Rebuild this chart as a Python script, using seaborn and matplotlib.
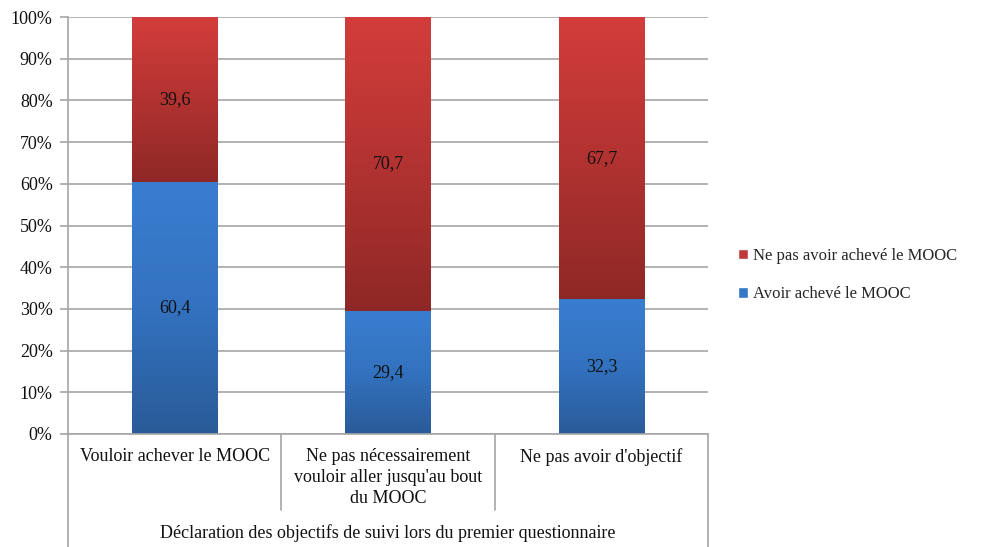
import numpy as np
import pandas as pd
import seaborn as sns
import matplotlib.pyplot as plt
from matplotlib.colors import LinearSegmentedColormap
from matplotlib.patches import Patch
from matplotlib.lines import Line2D

# Data
categories = ["Vouloir achever le MOOC",
              "Ne pas nécessairement\nvouloir aller jusqu'au bout\ndu MOOC",
              "Ne pas avoir d'objectif"]
acheve = [60.4, 29.4, 32.3]
non_acheve = [39.6, 70.7, 67.7]
series_names = ["Avoir achevé le MOOC", "Ne pas avoir achevé le MOOC"]
group_label = "Déclaration des objectifs de suivi lors du premier questionnaire"

df = pd.DataFrame({"cat": [str(i) for i in range(len(categories))],
                   "acheve": acheve, "non_acheve": non_acheve})
df["total"] = df["acheve"] + df["non_acheve"]

sns.set_style("white")
plt.rcParams["font.family"] = ["Liberation Serif", "DejaVu Serif"]

fig = plt.figure(figsize=(9.83, 5.47), dpi=100)
ax = fig.add_axes([0.0692, 0.2066, 0.6511, 0.7623])

blue = "#3477C7"
red = "#C0393A"
n = len(categories)
sns.barplot(data=df, x="cat", y="total", color=red, width=0.4, ax=ax, saturation=1)
sns.barplot(data=df, x="cat", y="acheve", color=blue, width=0.4, ax=ax, saturation=1)

# gradient fills
cmap_red = LinearSegmentedColormap.from_list("r", ["#8E2826", "#B23331", "#D33D3B"])
cmap_blue = LinearSegmentedColormap.from_list("b", ["#2A5B98", "#3372BF", "#3A7DD0"])
grad = np.linspace(0, 1, 256).reshape(-1, 1)
for i, p in enumerate(list(ax.patches)):
    x0, y0 = p.get_x(), p.get_y()
    w, h = p.get_width(), p.get_height()
    cm = cmap_red if i < n else cmap_blue
    if i < n:
        # red visible part runs from top of blue to 100
        y0 = acheve[i]
        h = df["total"][i] - acheve[i]
    ax.imshow(grad, cmap=cm, origin="lower", aspect="auto",
              extent=[x0, x0 + w, y0, y0 + h], zorder=2)
    p.set_facecolor("none")
    p.set_edgecolor("none")
ax.set_xlim(-0.5, n - 0.5)
ax.set_ylim(0, 100)

fs = 13
# value labels
for i in range(n):
    ax.text(i, acheve[i] / 2, f"{acheve[i]:.1f}".replace(".", ","),
            ha="center", va="center", fontsize=fs, color="#111111", zorder=4)
    ax.text(i, acheve[i] + non_acheve[i] / 2, f"{non_acheve[i]:.1f}".replace(".", ","),
            ha="center", va="center", fontsize=fs, color="#111111", zorder=4)

# axes styling
lc = "#A6A6A6"
ax.set_yticks(range(0, 101, 10))
ax.set_yticklabels([f"{v}%" for v in range(0, 101, 10)], fontsize=fs, color="#111111")
ax.yaxis.grid(True, color=lc, linewidth=1.2)
ax.set_axisbelow(True)
ax.tick_params(axis="y", left=True, length=6, color=lc, width=1.2, pad=5)
ax.set_xticks([])
ax.set_xlabel("")
ax.set_ylabel("")
for s in ["top", "right"]:
    ax.spines[s].set_visible(False)
for s in ["left", "bottom"]:
    ax.spines[s].set_color(lc)
    ax.spines[s].set_linewidth(1.2)

# category boxes
ax_h = 417.0
def py(px):
    return -px / ax_h
tr = ax.get_xaxis_transform()
for xb in [-0.5, n - 0.5]:
    ax.add_line(Line2D([xb, xb], [0, py(115)], color=lc, lw=1.2, clip_on=False, transform=tr))
for xb in [0.5, 1.5]:
    ax.add_line(Line2D([xb, xb], [0, py(76)], color=lc, lw=1.2, clip_on=False, transform=tr))
for i, c in enumerate(categories):
    ax.text(i, py(14), c, ha="center", va="top", fontsize=fs, linespacing=1.3,
            transform=tr, color="#111111")
ax.text(1, py(99), group_label, ha="center", va="center", fontsize=fs,
        transform=tr, color="#111111")

# legend
handles = [Patch(facecolor=red, label=series_names[1]),
           Patch(facecolor=blue, label=series_names[0])]
fig.legend(handles=handles, loc="center left", bbox_to_anchor=(0.735, 0.497),
           frameon=False, fontsize=12, handlelength=0.6, handleheight=0.6,
           handletextpad=0.3, labelspacing=1.35)

plt.savefig("out.png", dpi=100)
plt.close()
